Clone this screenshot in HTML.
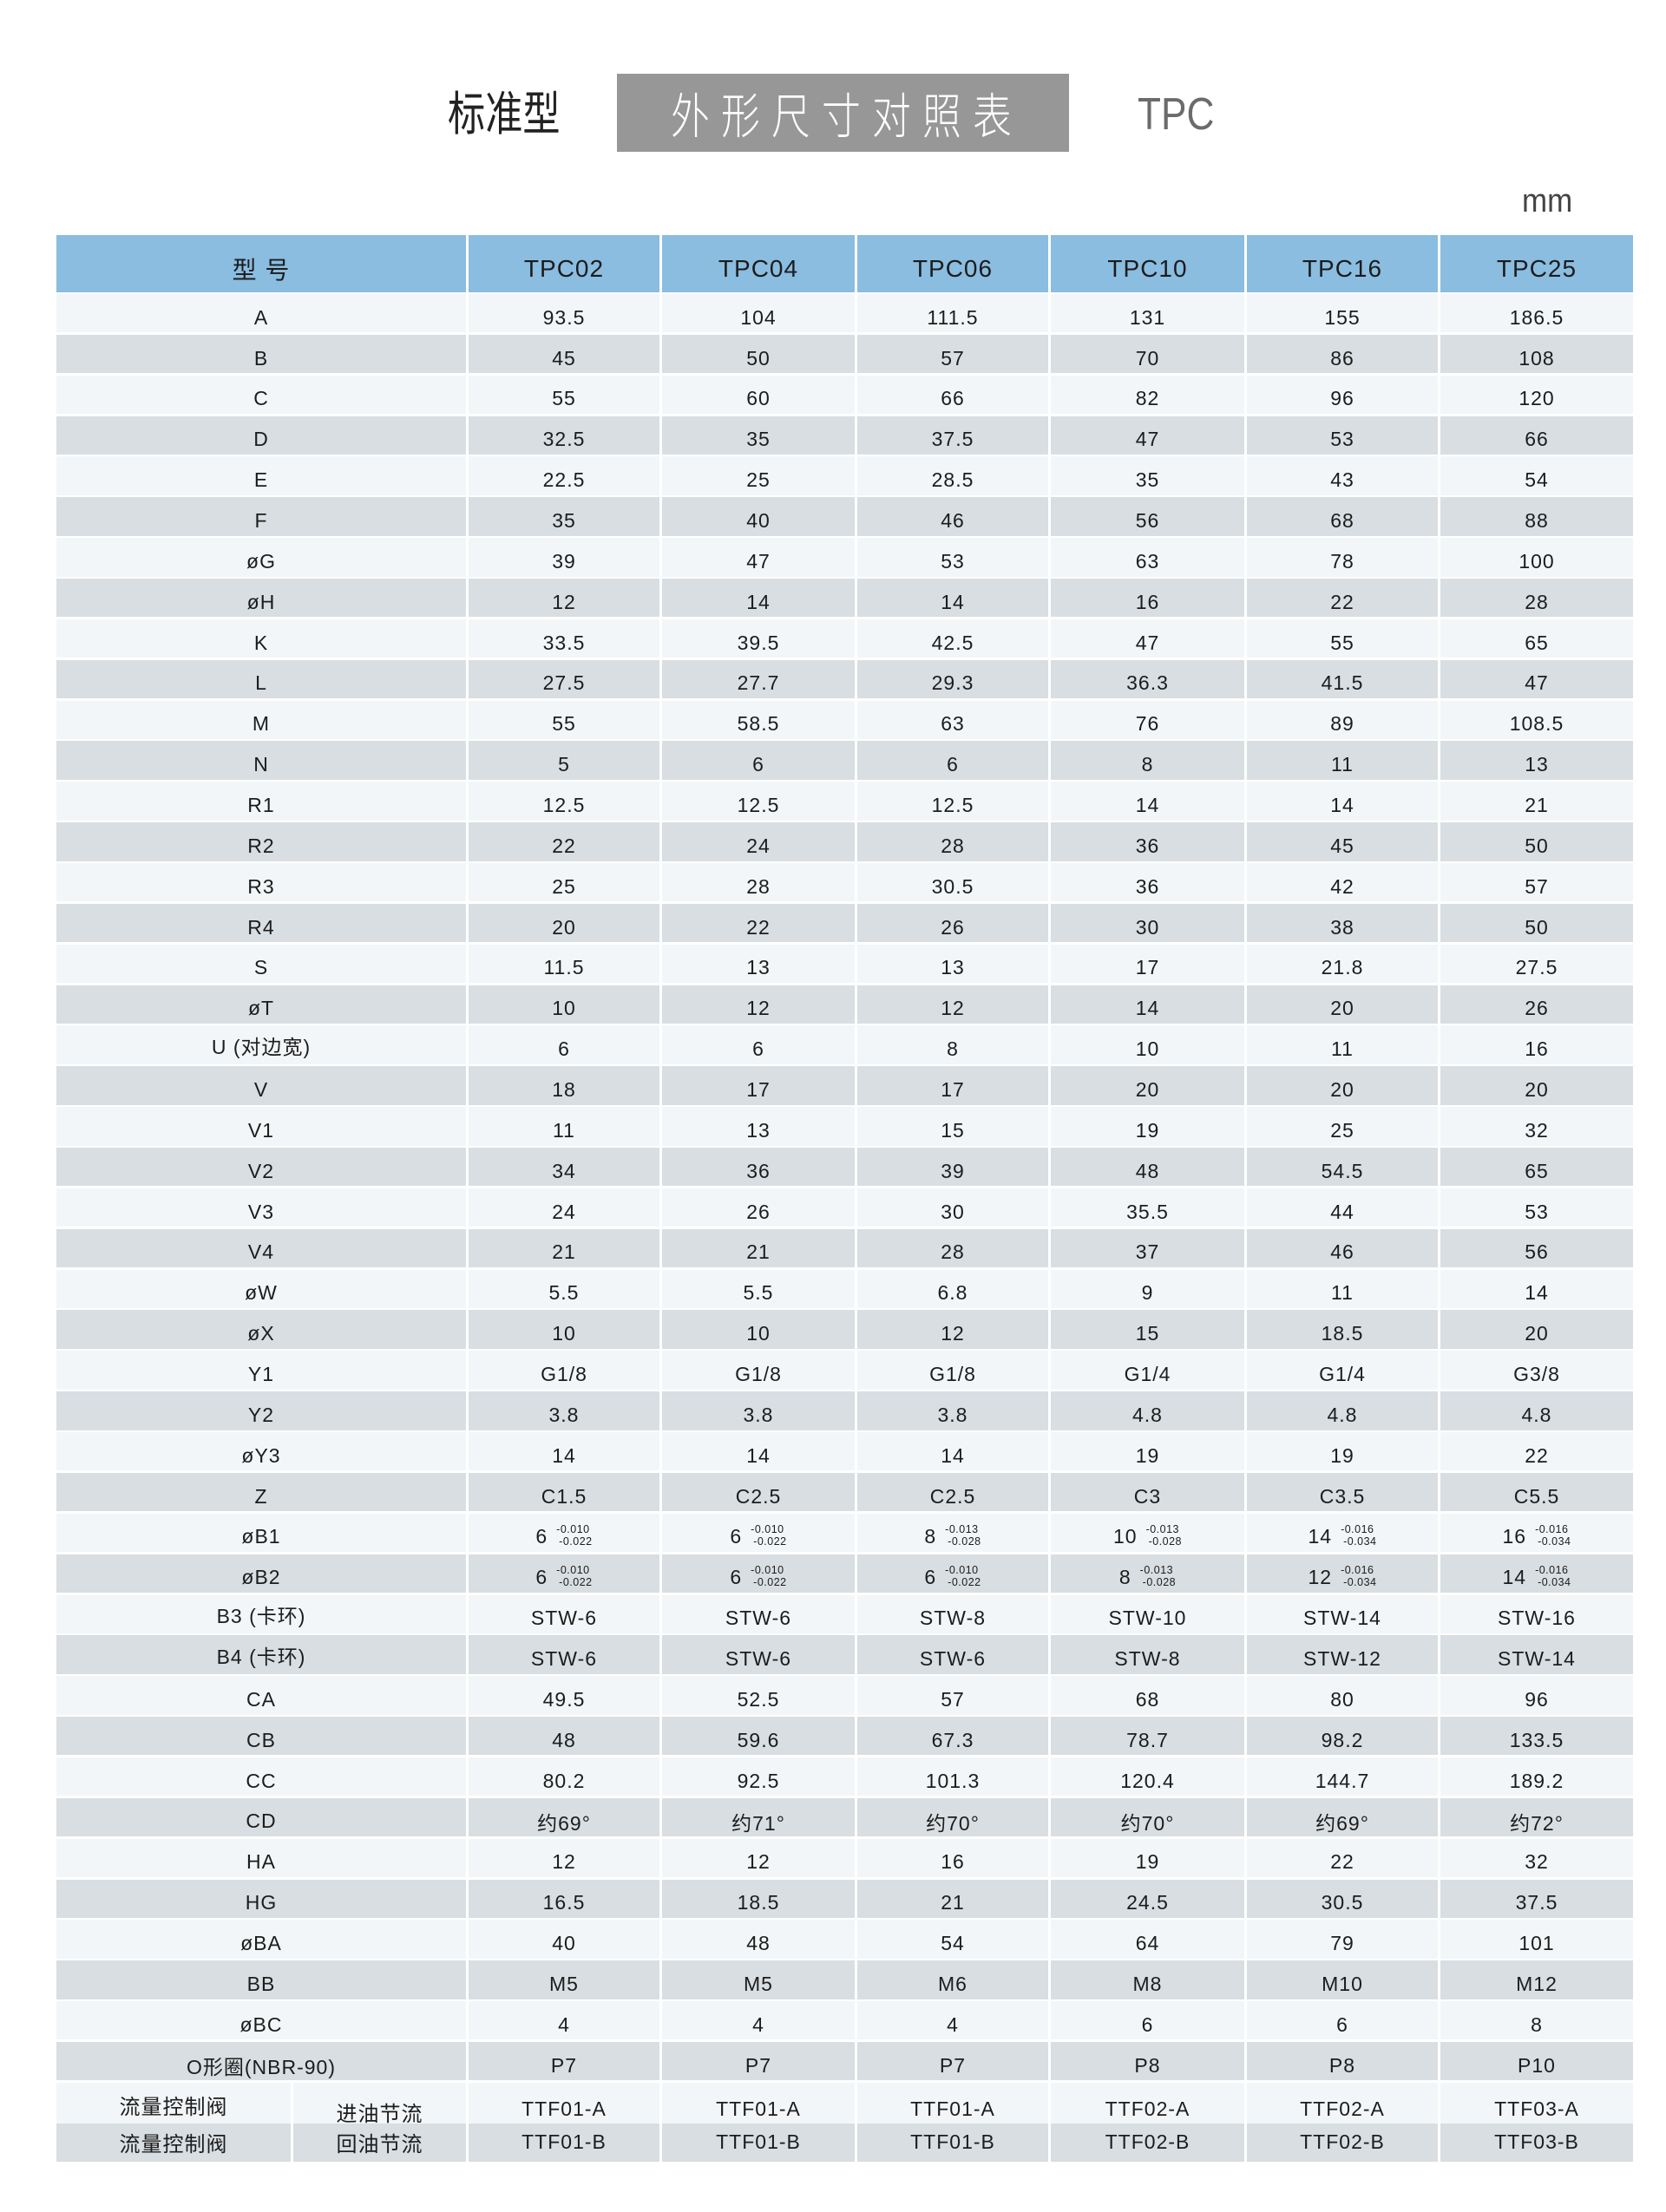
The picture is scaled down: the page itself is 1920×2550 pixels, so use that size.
<!DOCTYPE html>
<html><head><meta charset="utf-8">
<style>
html,body{margin:0;padding:0;background:#fff;}
body{width:1920px;height:2550px;position:relative;overflow:hidden;font-family:"Liberation Sans","Noto Sans CJK SC",sans-serif;color:#1c1c1c;}
.abs{position:absolute;white-space:nowrap;}
#t1{left:516px;top:100px;font-family:"Noto Sans CJK SC",sans-serif;font-size:54px;line-height:54px;color:#222;transform:scaleX(0.8);transform-origin:0 0;}
#box{left:711px;top:85px;width:521px;height:90px;background:#979797;}
#t2{left:773px;top:103px;font-family:"Noto Sans CJK SC",sans-serif;font-size:56px;line-height:56px;color:#fff;letter-spacing:16.5px;transform:scaleX(0.8);transform-origin:0 0;font-weight:300;}
#t3{left:1311px;top:106px;font-size:52px;line-height:52px;color:#6b6b6b;transform:scaleX(0.85);transform-origin:0 0;}
#mm{left:1754px;top:213px;font-size:38px;line-height:38px;color:#444;transform:scaleX(0.92);transform-origin:0 0;}
.row{position:absolute;left:65px;width:1817px;display:grid;grid-template-columns:472px 220px 222px 220px 223px 220px 222px;column-gap:3px;}
.row.f{grid-template-columns:270px 199px 220px 222px 220px 223px 220px 222px;}
.hd{top:271px;height:66px;}
.hd>div{background:#8abde0;font-size:28px;letter-spacing:1px;padding-top:12px;}
.row>div{display:flex;align-items:center;justify-content:center;box-sizing:border-box;white-space:nowrap;}
#tb{position:absolute;left:65px;top:339px;width:1817px;display:flex;flex-direction:column;row-gap:2.48px;}
#tb .row{position:relative;left:0;height:44.4px;}
#tb .row>div{font-size:23px;letter-spacing:1px;padding-top:10px;}
#tb .row:nth-child(odd)>div{background:#f3f6f8;}
#tb .row:nth-child(even)>div{background:#d8dee2;}
.cj{font-family:"Liberation Sans","Noto Sans CJK SC",sans-serif;}
.tol{display:inline-flex;align-items:center;}
.tol .s{display:inline-flex;flex-direction:column;font-size:12.5px;line-height:14px;letter-spacing:0.5px;margin-left:10px;margin-top:-4px;}
.tol .s span:last-child{padding-left:3px;}
</style></head><body>
<div class="abs" id="t1">标准型</div>
<div class="abs" id="box"></div>
<div class="abs" id="t2">外形尺寸对照表</div>
<div class="abs" id="t3">TPC</div>
<div class="abs" id="mm">mm</div>

<div class="row hd"><div class="cj">型 号</div><div>TPC02</div><div>TPC04</div><div>TPC06</div><div>TPC10</div><div>TPC16</div><div>TPC25</div></div>

<div id="tb">
<div class="row"><div>A</div><div>93.5</div><div>104</div><div>111.5</div><div>131</div><div>155</div><div>186.5</div></div>
<div class="row"><div>B</div><div>45</div><div>50</div><div>57</div><div>70</div><div>86</div><div>108</div></div>
<div class="row"><div>C</div><div>55</div><div>60</div><div>66</div><div>82</div><div>96</div><div>120</div></div>
<div class="row"><div>D</div><div>32.5</div><div>35</div><div>37.5</div><div>47</div><div>53</div><div>66</div></div>
<div class="row"><div>E</div><div>22.5</div><div>25</div><div>28.5</div><div>35</div><div>43</div><div>54</div></div>
<div class="row"><div>F</div><div>35</div><div>40</div><div>46</div><div>56</div><div>68</div><div>88</div></div>
<div class="row"><div>øG</div><div>39</div><div>47</div><div>53</div><div>63</div><div>78</div><div>100</div></div>
<div class="row"><div>øH</div><div>12</div><div>14</div><div>14</div><div>16</div><div>22</div><div>28</div></div>
<div class="row"><div>K</div><div>33.5</div><div>39.5</div><div>42.5</div><div>47</div><div>55</div><div>65</div></div>
<div class="row"><div>L</div><div>27.5</div><div>27.7</div><div>29.3</div><div>36.3</div><div>41.5</div><div>47</div></div>
<div class="row"><div>M</div><div>55</div><div>58.5</div><div>63</div><div>76</div><div>89</div><div>108.5</div></div>
<div class="row"><div>N</div><div>5</div><div>6</div><div>6</div><div>8</div><div>11</div><div>13</div></div>
<div class="row"><div>R1</div><div>12.5</div><div>12.5</div><div>12.5</div><div>14</div><div>14</div><div>21</div></div>
<div class="row"><div>R2</div><div>22</div><div>24</div><div>28</div><div>36</div><div>45</div><div>50</div></div>
<div class="row"><div>R3</div><div>25</div><div>28</div><div>30.5</div><div>36</div><div>42</div><div>57</div></div>
<div class="row"><div>R4</div><div>20</div><div>22</div><div>26</div><div>30</div><div>38</div><div>50</div></div>
<div class="row"><div>S</div><div>11.5</div><div>13</div><div>13</div><div>17</div><div>21.8</div><div>27.5</div></div>
<div class="row"><div>øT</div><div>10</div><div>12</div><div>12</div><div>14</div><div>20</div><div>26</div></div>
<div class="row"><div class="cj" style="padding-top:0">U (对边宽)</div><div>6</div><div>6</div><div>8</div><div>10</div><div>11</div><div>16</div></div>
<div class="row"><div>V</div><div>18</div><div>17</div><div>17</div><div>20</div><div>20</div><div>20</div></div>
<div class="row"><div>V1</div><div>11</div><div>13</div><div>15</div><div>19</div><div>25</div><div>32</div></div>
<div class="row"><div>V2</div><div>34</div><div>36</div><div>39</div><div>48</div><div>54.5</div><div>65</div></div>
<div class="row"><div>V3</div><div>24</div><div>26</div><div>30</div><div>35.5</div><div>44</div><div>53</div></div>
<div class="row"><div>V4</div><div>21</div><div>21</div><div>28</div><div>37</div><div>46</div><div>56</div></div>
<div class="row"><div>øW</div><div>5.5</div><div>5.5</div><div>6.8</div><div>9</div><div>11</div><div>14</div></div>
<div class="row"><div>øX</div><div>10</div><div>10</div><div>12</div><div>15</div><div>18.5</div><div>20</div></div>
<div class="row"><div>Y1</div><div>G1/8</div><div>G1/8</div><div>G1/8</div><div>G1/4</div><div>G1/4</div><div>G3/8</div></div>
<div class="row"><div>Y2</div><div>3.8</div><div>3.8</div><div>3.8</div><div>4.8</div><div>4.8</div><div>4.8</div></div>
<div class="row"><div>øY3</div><div>14</div><div>14</div><div>14</div><div>19</div><div>19</div><div>22</div></div>
<div class="row"><div>Z</div><div>C1.5</div><div>C2.5</div><div>C2.5</div><div>C3</div><div>C3.5</div><div>C5.5</div></div>
<div class="row"><div>øB1</div>
<div><span class="tol">6<span class="s"><span>-0.010</span><span>-0.022</span></span></span></div>
<div><span class="tol">6<span class="s"><span>-0.010</span><span>-0.022</span></span></span></div>
<div><span class="tol">8<span class="s"><span>-0.013</span><span>-0.028</span></span></span></div>
<div><span class="tol">10<span class="s"><span>-0.013</span><span>-0.028</span></span></span></div>
<div><span class="tol">14<span class="s"><span>-0.016</span><span>-0.034</span></span></span></div>
<div><span class="tol">16<span class="s"><span>-0.016</span><span>-0.034</span></span></span></div></div>
<div class="row"><div>øB2</div>
<div><span class="tol">6<span class="s"><span>-0.010</span><span>-0.022</span></span></span></div>
<div><span class="tol">6<span class="s"><span>-0.010</span><span>-0.022</span></span></span></div>
<div><span class="tol">6<span class="s"><span>-0.010</span><span>-0.022</span></span></span></div>
<div><span class="tol">8<span class="s"><span>-0.013</span><span>-0.028</span></span></span></div>
<div><span class="tol">12<span class="s"><span>-0.016</span><span>-0.034</span></span></span></div>
<div><span class="tol">14<span class="s"><span>-0.016</span><span>-0.034</span></span></span></div></div>
<div class="row"><div class="cj" style="padding-top:0">B3 (卡环)</div><div>STW-6</div><div>STW-6</div><div>STW-8</div><div>STW-10</div><div>STW-14</div><div>STW-16</div></div>
<div class="row"><div class="cj" style="padding-top:0">B4 (卡环)</div><div>STW-6</div><div>STW-6</div><div>STW-6</div><div>STW-8</div><div>STW-12</div><div>STW-14</div></div>
<div class="row"><div>CA</div><div>49.5</div><div>52.5</div><div>57</div><div>68</div><div>80</div><div>96</div></div>
<div class="row"><div>CB</div><div>48</div><div>59.6</div><div>67.3</div><div>78.7</div><div>98.2</div><div>133.5</div></div>
<div class="row"><div>CC</div><div>80.2</div><div>92.5</div><div>101.3</div><div>120.4</div><div>144.7</div><div>189.2</div></div>
<div class="row"><div>CD</div><div class="cj">约69°</div><div class="cj">约71°</div><div class="cj">约70°</div><div class="cj">约70°</div><div class="cj">约69°</div><div class="cj">约72°</div></div>
<div class="row"><div>HA</div><div>12</div><div>12</div><div>16</div><div>19</div><div>22</div><div>32</div></div>
<div class="row"><div>HG</div><div>16.5</div><div>18.5</div><div>21</div><div>24.5</div><div>30.5</div><div>37.5</div></div>
<div class="row"><div>øBA</div><div>40</div><div>48</div><div>54</div><div>64</div><div>79</div><div>101</div></div>
<div class="row"><div>BB</div><div>M5</div><div>M5</div><div>M6</div><div>M8</div><div>M10</div><div>M12</div></div>
<div class="row"><div>øBC</div><div>4</div><div>4</div><div>4</div><div>6</div><div>6</div><div>8</div></div>
<div class="row"><div class="cj">O形圈(NBR-90)</div><div>P7</div><div>P7</div><div>P7</div><div>P8</div><div>P8</div><div>P10</div></div>
<div class="row f"><div class="cj" style="padding-top:0;font-size:24px">流量控制阀</div><div class="cj" style="padding-top:16px;font-size:24px">进油节流</div><div>TTF01-A</div><div>TTF01-A</div><div>TTF01-A</div><div>TTF02-A</div><div>TTF02-A</div><div>TTF03-A</div></div>
<div class="row f"><div class="cj" style="padding-top:0;font-size:24px">流量控制阀</div><div class="cj" style="padding-top:0;font-size:24px">回油节流</div><div style="padding-top:0">TTF01-B</div><div style="padding-top:0">TTF01-B</div><div style="padding-top:0">TTF01-B</div><div style="padding-top:0">TTF02-B</div><div style="padding-top:0">TTF02-B</div><div style="padding-top:0">TTF03-B</div></div>
</div>
</body></html>
